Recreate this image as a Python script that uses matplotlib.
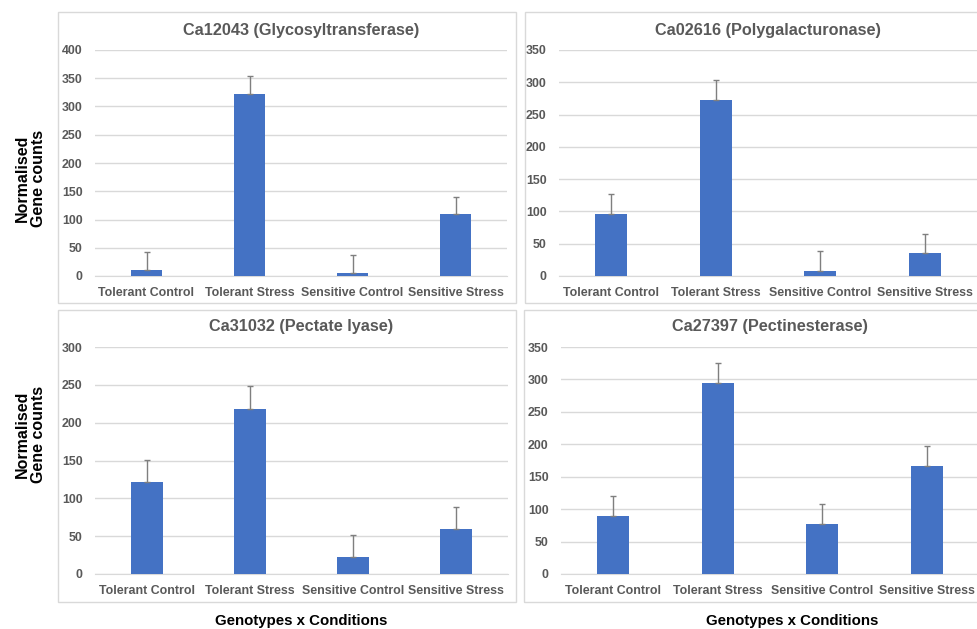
import numpy as np
import matplotlib
matplotlib.use("Agg")
import matplotlib.pyplot as plt
from matplotlib.patches import Rectangle

plt.rcParams['font.family'] = ['Liberation Sans', 'DejaVu Sans']
plt.rcParams['font.weight'] = 'bold'

groups = ['Tolerant Control', 'Tolerant Stress', 'Sensitive Control', 'Sensitive Stress']

titles = ['Ca12043 (Glycosyltransferase)', 'Ca02616 (Polygalacturonase)',
          'Ca31032 (Pectate lyase)', 'Ca27397 (Pectinesterase)']

ca12043 = [11, 323, 6, 110]
ca12043_err = [31, 31, 31, 30]
ca02616 = [96, 272, 8, 35]
ca02616_err = [31, 31, 30, 30]
ca31032 = [121, 218, 22, 59]
ca31032_err = [30, 30, 30, 30]
ca27397 = [90, 295, 77, 166]
ca27397_err = [30, 30, 31, 31]

means = [ca12043, ca02616, ca31032, ca27397]
errs = [ca12043_err, ca02616_err, ca31032_err, ca27397_err]
ymax = [400, 350, 300, 350]

W, H = 977, 629
fig = plt.figure(figsize=(W / 100, H / 100), dpi=100)

# plot areas and surrounding chart boxes, in pixels (left, top, right, bottom)
plot_px = [(95, 50, 507, 276), (559, 50, 977, 276),
           (95, 347, 508, 574), (561, 347, 979, 574)]
box_px = [(58, 12, 516, 303), (525, 12, 990, 303),
          (58, 310, 516, 602), (524, 310, 990, 602)]
title_y = [31, 31, 327, 327]

grey = '#595959'
blue = '#4472C4'

for i in range(4):
    l, t, r, b = box_px[i]
    fig.patches.append(Rectangle((l / W, 1 - b / H), (r - l) / W, (b - t) / H,
                                 transform=fig.transFigure, fill=False,
                                 edgecolor='#D9D9D9', lw=1.0, zorder=0))

    l, t, r, b = plot_px[i]
    ax = fig.add_axes([l / W, 1 - b / H, (r - l) / W, (b - t) / H])
    ax.set_facecolor('none')
    x = np.arange(len(groups))
    ax.bar(x, means[i], width=0.31, color=blue, zorder=3)
    ax.errorbar(x, means[i], yerr=[np.zeros(4), errs[i]], fmt='none',
                ecolor='#7F7F7F', elinewidth=1.0, capsize=2.5, capthick=1.0, zorder=4)
    ax.set_xlim(-0.5, 3.5)
    ax.set_ylim(0, ymax[i])
    ax.set_yticks(np.arange(0, ymax[i] + 1, 50))
    ax.yaxis.grid(True, color='#D9D9D9', lw=1.0, zorder=0)
    ax.set_axisbelow(True)
    for s in ['top', 'right', 'left']:
        ax.spines[s].set_visible(False)
    ax.spines['bottom'].set_color('#D9D9D9')
    ax.set_xticks(x)
    ax.set_xticklabels(groups)
    ax.tick_params(length=0, labelsize=8.9, colors=grey)
    ax.tick_params(axis='y', pad=9)
    ax.tick_params(axis='x', pad=8)
    for lab in ax.get_xticklabels() + ax.get_yticklabels():
        lab.set_fontweight('bold')

    fig.text((l + r) / 2 / W, 1 - title_y[i] / H, titles[i], ha='center', va='center',
             fontsize=11.7, fontweight='bold', color=grey)

for yc in [178, 434]:
    fig.text(30 / W, 1 - yc / H, 'Normalised\nGene counts', rotation=90,
             ha='center', va='center', fontsize=11.5, fontweight='bold', color='black',
             linespacing=1.1)

for xc in [301, 792]:
    fig.text(xc / W, 1 - 621 / H, 'Genotypes x Conditions', ha='center', va='center',
             fontsize=10.8, fontweight='bold', color='black')

fig.savefig('out.png', dpi=100, facecolor='white')
